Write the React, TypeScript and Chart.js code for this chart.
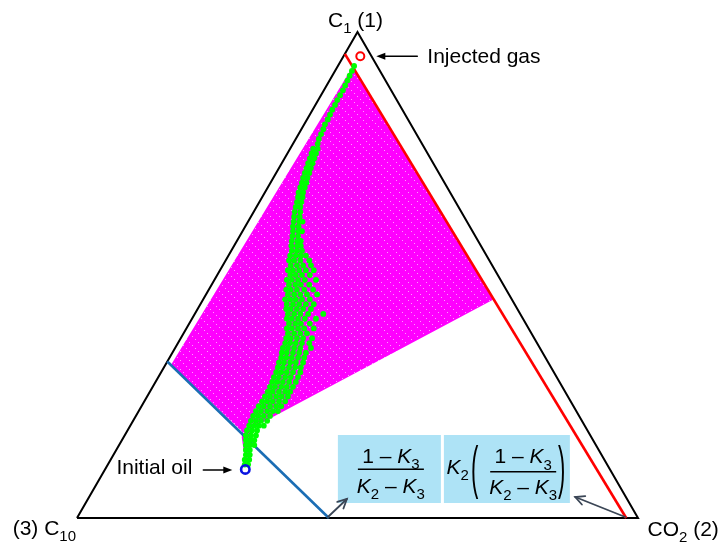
import { useEffect, useRef } from 'react';
import { Chart, registerables } from 'chart.js';

Chart.register(...registerables);

// All compositions are [C1 fraction, CO2 fraction]; C10 = 1 - C1 - CO2
const vertexC1 = [1, 0];
const vertexCO2 = [0, 1];
const vertexC10 = [0, 0];

const injectedGas = [0.95, 0.03];
const initialOil = [0.10, 0.25];

// liquid (bubble) boundary and vapour (dew) boundary for constant K-values
const liquidBoundary = [[0.322, 0], [0, 0.449]];
const vaporBoundary = [[0.955, 0], [0, 0.979]];

// region swept by two-phase compositions (magenta)
const twoPhaseRegion = [
  [0.316, 0.010], [0.930, 0.027], [0.449, 0.517], [0.186, 0.221],
  [0.136, 0.240], [0.111, 0.245], [0.167, 0.210], [0.178, 0.205],
];

// simulated composition path (green): C1 level -> CO2 values at that level
const pathC1Levels = [
  0.93, 0.92, 0.91, 0.90, 0.89, 0.88, 0.87, 0.86, 0.85, 0.84, 0.83, 0.82, 0.81, 0.80,
  0.79, 0.78, 0.77, 0.76, 0.75, 0.74, 0.73, 0.72, 0.71, 0.70, 0.69, 0.68, 0.67, 0.66,
  0.65, 0.64, 0.63, 0.62, 0.61, 0.60, 0.59, 0.58, 0.57, 0.56, 0.55, 0.54, 0.53, 0.52,
  0.51, 0.50, 0.49, 0.48, 0.47, 0.46, 0.45, 0.44, 0.43, 0.42, 0.41, 0.40, 0.39, 0.38,
  0.37, 0.36, 0.35, 0.34, 0.33, 0.32, 0.31, 0.30, 0.29, 0.28, 0.27, 0.26, 0.25, 0.24,
  0.23, 0.22, 0.21, 0.20, 0.19, 0.18, 0.17, 0.16, 0.15, 0.14, 0.13, 0.12, 0.11,
];
const pathCO2ByLevel = [
  [0.029], [0.030], [0.031], [0.032], [0.033], [0.034], [0.034], [0.034], [0.035], [0.035],
  [0.036], [0.037], [0.037], [0.039], [0.040], [0.041], [0.044],
  [0.041, 0.049], [0.043, 0.051], [0.045, 0.053], [0.047, 0.055], [0.049, 0.057],
  [0.051, 0.059], [0.053, 0.061], [0.056, 0.064], [0.058, 0.066], [0.060, 0.068],
  [0.064, 0.072], [0.067, 0.075], [0.070, 0.078], [0.073, 0.083], [0.077, 0.087],
  [0.081, 0.091, 0.097], [0.085, 0.095], [0.090, 0.100, 0.106], [0.094, 0.104],
  [0.098, 0.108, 0.114], [0.102, 0.112, 0.119], [0.108, 0.117, 0.126],
  [0.110, 0.120, 0.129, 0.138], [0.113, 0.122, 0.133, 0.149], [0.121, 0.132, 0.143, 0.157],
  [0.121, 0.130, 0.141, 0.153, 0.167], [0.130, 0.140, 0.151, 0.165],
  [0.129, 0.138, 0.149, 0.161, 0.181], [0.138, 0.149, 0.159, 0.174],
  [0.138, 0.146, 0.157, 0.170, 0.186], [0.146, 0.157, 0.168, 0.180, 0.198],
  [0.146, 0.155, 0.165, 0.176, 0.190], [0.154, 0.165, 0.176, 0.188, 0.202],
  [0.158, 0.166, 0.177, 0.188, 0.202], [0.166, 0.177, 0.188, 0.202, 0.229],
  [0.169, 0.178, 0.189, 0.201, 0.221], [0.178, 0.189, 0.199, 0.215],
  [0.179, 0.188, 0.199, 0.210, 0.227], [0.186, 0.197, 0.208, 0.220],
  [0.188, 0.196, 0.207, 0.218, 0.234], [0.191, 0.200, 0.210, 0.221, 0.234],
  [0.192, 0.201, 0.212, 0.223, 0.242], [0.195, 0.204, 0.215, 0.226, 0.238],
  [0.199, 0.208, 0.218, 0.229, 0.240], [0.200, 0.209, 0.220, 0.230, 0.243],
  [0.203, 0.212, 0.223, 0.234, 0.244], [0.205, 0.214, 0.224, 0.235, 0.248],
  [0.206, 0.215, 0.226, 0.236, 0.249], [0.208, 0.217, 0.227, 0.238, 0.250],
  [0.209, 0.218, 0.229, 0.239, 0.250], [0.210, 0.219, 0.230, 0.241, 0.250],
  [0.210, 0.219, 0.230, 0.240, 0.251], [0.210, 0.219, 0.229, 0.240, 0.251],
  [0.209, 0.218, 0.229, 0.240, 0.249], [0.209, 0.218, 0.229, 0.239, 0.248],
  [0.209, 0.218, 0.228, 0.239], [0.210, 0.219, 0.228, 0.239], [0.212, 0.221, 0.229, 0.238],
  [0.213, 0.222, 0.231], [0.216, 0.225, 0.234], [0.221, 0.228, 0.236], [0.226, 0.233, 0.241],
  [0.231, 0.238], [0.236, 0.243], [0.239, 0.247], [0.244, 0.250],
];

const FONT = '"Liberation Sans", Arial, Helvetica, sans-serif';

type Part = { t: string; sub?: boolean; it?: boolean };

const toXY = (c: number[]) => ({ x: c[1] + c[0] / 2, y: c[0] });

function partFont(p: Part, size: number) {
  return `${p.it ? 'italic ' : ''}${p.sub ? Math.round(size * 0.72) : size}px ${FONT}`;
}

function drawParts(ctx: CanvasRenderingContext2D, x: number, y: number, parts: Part[], size: number, align: 'left' | 'center' | 'right') {
  let w = 0;
  for (const p of parts) {
    ctx.font = partFont(p, size);
    w += ctx.measureText(p.t).width;
  }
  let cx = align === 'center' ? x - w / 2 : align === 'right' ? x - w : x;
  for (const p of parts) {
    ctx.font = partFont(p, size);
    ctx.fillText(p.t, cx, p.sub ? y + size * 0.3 : y);
    cx += ctx.measureText(p.t).width;
  }
  return w;
}

function drawArrow(ctx: CanvasRenderingContext2D, x1: number, y1: number, x2: number, y2: number, color: string, width: number, filled: boolean) {
  const ang = Math.atan2(y2 - y1, x2 - x1);
  const hl = 9;
  const hw = filled ? 3.5 : 4.5;
  ctx.save();
  ctx.strokeStyle = color;
  ctx.fillStyle = color;
  ctx.lineWidth = width;
  ctx.lineCap = 'round';
  ctx.beginPath();
  ctx.moveTo(x1, y1);
  ctx.lineTo(filled ? x2 - Math.cos(ang) * hl * 0.8 : x2, filled ? y2 - Math.sin(ang) * hl * 0.8 : y2);
  ctx.stroke();
  const bx = x2 - Math.cos(ang) * hl;
  const by = y2 - Math.sin(ang) * hl;
  const px = -Math.sin(ang) * hw;
  const py = Math.cos(ang) * hw;
  ctx.beginPath();
  if (filled) {
    ctx.moveTo(x2, y2);
    ctx.lineTo(bx + px, by + py);
    ctx.lineTo(bx - px, by - py);
    ctx.closePath();
    ctx.fill();
  } else {
    ctx.moveTo(bx + px, by + py);
    ctx.lineTo(x2, y2);
    ctx.lineTo(bx - px, by - py);
    ctx.stroke();
  }
  ctx.restore();
}

function drawParen(ctx: CanvasRenderingContext2D, ch: string, x: number, top: number, h: number) {
  ctx.save();
  ctx.font = `22px ${FONT}`;
  const m = ctx.measureText(ch);
  const asc = m.actualBoundingBoxAscent;
  const desc = m.actualBoundingBoxDescent;
  const s = h / (asc + desc);
  ctx.translate(x, top);
  ctx.scale(1, s);
  ctx.fillText(ch, 0, asc);
  ctx.restore();
}

const annotations = {
  id: 'ternaryAnnotations',
  afterDraw(chart: any) {
    const ctx: CanvasRenderingContext2D = chart.ctx;
    const xs = chart.scales.x;
    const ys = chart.scales.y;
    const P = (c: number[]) => {
      const q = toXY(c);
      return { x: xs.getPixelForValue(q.x), y: ys.getPixelForValue(q.y) };
    };
    ctx.save();
    ctx.textBaseline = 'alphabetic';
    ctx.textAlign = 'left';
    ctx.fillStyle = '#000';

    const top = P(vertexC1);
    const left = P(vertexC10);
    const right = P(vertexCO2);
    drawParts(ctx, top.x - 2, top.y - 5, [{ t: 'C' }, { t: '1', sub: true }, { t: ' (1)' }], 21, 'center');
    drawParts(ctx, left.x - 1, left.y + 16.5, [{ t: '(3) C' }, { t: '10', sub: true }], 21, 'right');
    drawParts(ctx, right.x + 9.5, right.y + 17.5, [{ t: 'CO' }, { t: '2', sub: true }, { t: ' (2)' }], 21, 'left');

    const g = P(injectedGas);
    drawArrow(ctx, g.x + 57, g.y, g.x + 16, g.y, '#000', 1.5, true);
    ctx.fillStyle = '#000';
    drawParts(ctx, g.x + 67, g.y + 7, [{ t: 'Injected gas' }], 21, 'left');

    const o = P(initialOil);
    drawArrow(ctx, o.x - 42, o.y + 0.5, o.x - 13, o.y + 0.5, '#000', 1.5, true);
    ctx.fillStyle = '#000';
    drawParts(ctx, o.x - 53, o.y + 5, [{ t: 'Initial oil' }], 21, 'right');

    // boxes with the K-value expressions
    const b = P(liquidBoundary[1]);
    const r = P(vaporBoundary[1]);
    const boxTop = b.y - 83;
    const boxH = 68;
    const b1x = b.x + 9;
    const b2x = b.x + 115;
    ctx.fillStyle = '#aee3f6';
    ctx.fillRect(b1x, boxTop, 103, boxH);
    ctx.fillRect(b2x, boxTop, 126, boxH);

    ctx.fillStyle = '#000';
    ctx.strokeStyle = '#000';
    ctx.lineWidth = 1.6;
    const num: Part[] = [{ t: '1 – ' }, { t: 'K', it: true }, { t: '3', sub: true }];
    const den: Part[] = [{ t: 'K', it: true }, { t: '2', sub: true }, { t: ' – ' }, { t: 'K', it: true }, { t: '3', sub: true }];
    // box 1
    let cx = b1x + 53;
    drawParts(ctx, cx, boxTop + 28, num, 21, 'center');
    drawParts(ctx, cx, boxTop + 58, den, 21, 'center');
    ctx.beginPath();
    ctx.moveTo(cx - 33, boxTop + 34.3);
    ctx.lineTo(cx + 33, boxTop + 34.3);
    ctx.stroke();
    // box 2
    drawParts(ctx, b2x + 2.5, boxTop + 38.5, [{ t: 'K', it: true }, { t: '2', sub: true }], 21, 'left');
    drawParen(ctx, '(', b2x + 27, boxTop + 10, 55);
    drawParen(ctx, ')', b2x + 114, boxTop + 10, 55);
    cx = b2x + 79.3;
    drawParts(ctx, cx, boxTop + 28.3, num, 21, 'center');
    drawParts(ctx, cx, boxTop + 59, den, 21, 'center');
    ctx.beginPath();
    ctx.moveTo(cx - 33, boxTop + 36.7);
    ctx.lineTo(cx + 33, boxTop + 36.7);
    ctx.stroke();

    drawArrow(ctx, b.x - 1, b.y - 1, b.x + 18, b.y - 19, '#3b4656', 1.8, false);
    drawArrow(ctx, r.x - 1, r.y - 1, r.x - 51, r.y - 21, '#3b4656', 1.8, false);
    ctx.restore();
  },
};

function makeTexture(): CanvasPattern | string {
  const c = document.createElement('canvas');
  c.width = 9;
  c.height = 9;
  const g = c.getContext('2d');
  if (!g) return '#ff00ff';
  g.fillStyle = '#ff00ff';
  g.fillRect(0, 0, 9, 9);
  g.fillStyle = 'rgba(255,255,255,0.6)';
  g.fillRect(0, 0, 1, 1);
  g.fillRect(3, 3, 1, 1);
  g.fillRect(6, 6, 1, 1);
  return g.createPattern(c, 'repeat') || '#ff00ff';
}

export default function App() {
  const ref = useRef<HTMLCanvasElement | null>(null);
  useEffect(() => {
    if (!ref.current) return;
    const pathPoints: { x: number; y: number }[] = [];
    pathC1Levels.forEach((c1, i) => {
      pathCO2ByLevel[i].forEach((co2) => pathPoints.push(toXY([c1, co2])));
    });
    const region = [...twoPhaseRegion, twoPhaseRegion[0]].map(toXY);
    const tri = [vertexC10, vertexCO2, vertexC1, vertexC10].map(toXY);

    const chart = new Chart(ref.current, {
      type: 'scatter',
      data: {
        datasets: [
          {
            label: 'Injected gas',
            data: [toXY(injectedGas)],
            pointRadius: 4,
            borderColor: '#ff0000',
            backgroundColor: 'rgba(0,0,0,0)',
            borderWidth: 2,
            clip: false,
          },
          {
            label: 'Initial oil',
            data: [toXY(initialOil)],
            pointRadius: 4.2,
            borderColor: '#0a14e0',
            backgroundColor: 'rgba(0,0,0,0)',
            borderWidth: 2.6,
            clip: false,
          },
          {
            label: 'Path',
            data: pathPoints,
            pointRadius: 2.9,
            pointStyle: 'circle',
            backgroundColor: '#00ff00',
            borderWidth: 0,
            clip: false,
          },
          {
            label: 'Vapour boundary',
            data: vaporBoundary.map(toXY),
            showLine: true,
            borderColor: '#ff0000',
            borderWidth: 2.6,
            pointRadius: 0,
            clip: false,
          },
          {
            label: 'Liquid boundary',
            data: liquidBoundary.map(toXY),
            showLine: true,
            borderColor: '#1b6db4',
            borderWidth: 2.6,
            pointRadius: 0,
            clip: false,
          },
          {
            label: 'Triangle',
            data: tri,
            showLine: true,
            borderColor: '#000000',
            borderWidth: 2,
            borderJoinStyle: 'miter',
            pointRadius: 0,
            clip: false,
          },
          {
            label: 'Two-phase',
            data: region,
            showLine: true,
            fill: 'shape',
            backgroundColor: makeTexture() as any,
            borderColor: 'rgba(0,0,0,0)',
            borderWidth: 0,
            pointRadius: 0,
            clip: false,
          } as any,
        ],
      },
      options: {
        responsive: false,
        devicePixelRatio: 1,
        animation: false,
        layout: { padding: { left: 77, right: 84, top: 32, bottom: 26 } },
        scales: {
          x: { type: 'linear', min: 0, max: 1, display: false },
          y: { type: 'linear', min: 0, max: 1, display: false },
        },
        plugins: {
          legend: { display: false },
          tooltip: { enabled: false },
        },
      },
      plugins: [annotations],
    });
    return () => chart.destroy();
  }, []);

  return (
    <div style={{ position: 'absolute', left: 0, top: 0, width: 722, height: 544, background: '#fff' }}>
      <canvas ref={ref} width={722} height={544} style={{ display: 'block', width: 722, height: 544 }} />
    </div>
  );
}
